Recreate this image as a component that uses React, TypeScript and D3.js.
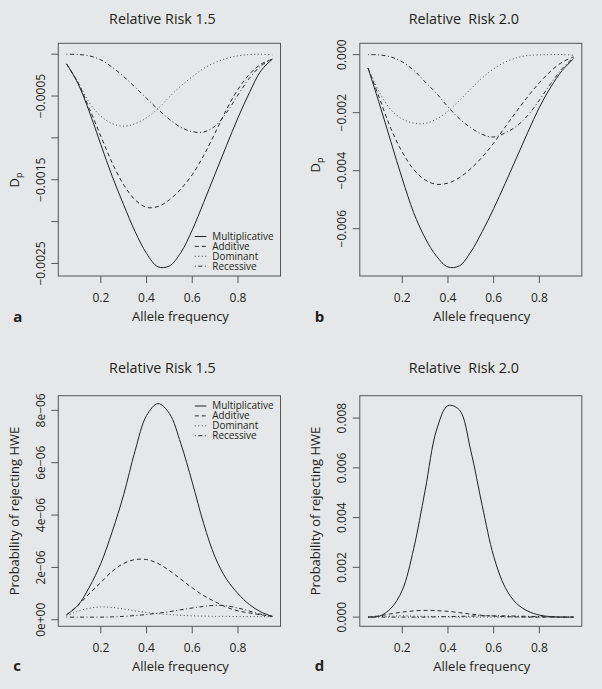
import React from 'react';
import * as d3 from 'd3';

// allele frequency grid shared by every curve
const alleleFreq = [0.05, 0.1, 0.15, 0.2, 0.25, 0.3, 0.35, 0.4, 0.45, 0.5, 0.55, 0.6, 0.65, 0.7, 0.75, 0.8, 0.85, 0.9, 0.95];

const models = ['Multiplicative', 'Additive', 'Dominant', 'Recessive'];

// panel a: D_p, relative risk 1.5
const dpRR15Multiplicative = [-0.000116, -0.00035, -0.00069, -0.00108, -0.00146, -0.0018, -0.00212, -0.00238, -0.00254, -0.00253, -0.00237, -0.0021, -0.00177, -0.00143, -0.00109, -0.00076, -0.00046, -0.0002, -0.00006];
const dpRR15Additive = [-0.000116, -0.00034, -0.00065, -0.00098, -0.0013, -0.00156, -0.00174, -0.00183, -0.00182, -0.00174, -0.00161, -0.00144, -0.00121, -0.00094, -0.00066, -0.00042, -0.00024, -0.00012, -0.00006];
const dpRR15Dominant = [-0.000116, -0.00033, -0.00058, -0.00074, -0.00083, -0.00086, -0.00083, -0.00076, -0.00065, -0.00051, -0.00038, -0.00027, -0.00017, -0.0001, -0.00005, -0.00002, -0.000005, 0, -0.000008];
const dpRR15Recessive = [0, -0.000004, -0.00002, -0.000068, -0.000156, -0.000267, -0.000395, -0.000527, -0.000658, -0.000778, -0.000874, -0.000926, -0.00093, -0.000858, -0.000698, -0.000487, -0.000287, -0.00014, -0.00006];

// panel b: D_p, relative risk 2.0
const dpRR20Multiplicative = [-0.00046, -0.0017, -0.003, -0.00428, -0.00545, -0.00632, -0.00695, -0.00732, -0.00728, -0.0068, -0.0061, -0.00531, -0.00445, -0.00356, -0.00267, -0.00182, -0.00112, -0.00055, -0.00014];
const dpRR20Additive = [-0.00046, -0.0015, -0.00255, -0.00336, -0.00396, -0.00432, -0.00447, -0.00443, -0.00424, -0.00393, -0.00353, -0.00305, -0.0025, -0.00196, -0.00144, -0.00097, -0.00057, -0.00026, -0.00008];
const dpRR20Dominant = [-0.00046, -0.0013, -0.0019, -0.00222, -0.00236, -0.00237, -0.00222, -0.00195, -0.00158, -0.00118, -0.0008, -0.00049, -0.00026, -0.00011, -0.00003, -0.00001, 0, 0, -0.00002];
const dpRR20Recessive = [0, -0.00001, -0.00008, -0.00025, -0.00054, -0.00094, -0.00134, -0.0018, -0.00221, -0.00252, -0.00275, -0.00284, -0.0027, -0.00247, -0.00209, -0.00157, -0.001, -0.00048, -0.0001];

// panel c: probability of rejecting HWE, relative risk 1.5
const hweRR15Multiplicative = [0.19e-6, 0.55e-6, 1.25e-6, 2.15e-6, 3.37e-6, 4.78e-6, 6.46e-6, 7.8e-6, 8.26e-6, 7.88e-6, 6.73e-6, 5.25e-6, 3.67e-6, 2.39e-6, 1.55e-6, 1.0e-6, 0.58e-6, 0.3e-6, 0.13e-6];
const hweRR15Additive = [0.19e-6, 0.55e-6, 1.0e-6, 1.42e-6, 1.85e-6, 2.15e-6, 2.3e-6, 2.3e-6, 2.15e-6, 1.88e-6, 1.55e-6, 1.22e-6, 0.92e-6, 0.69e-6, 0.48e-6, 0.34e-6, 0.26e-6, 0.19e-6, 0.13e-6];
const hweRR15Dominant = [0.15e-6, 0.33e-6, 0.44e-6, 0.49e-6, 0.47e-6, 0.41e-6, 0.34e-6, 0.28e-6, 0.23e-6, 0.2e-6, 0.17e-6, 0.15e-6, 0.14e-6, 0.13e-6, 0.13e-6, 0.12e-6, 0.12e-6, 0.12e-6, 0.12e-6];
const hweRR15Recessive = [0.1e-6, 0.1e-6, 0.1e-6, 0.1e-6, 0.11e-6, 0.13e-6, 0.16e-6, 0.2e-6, 0.25e-6, 0.31e-6, 0.38e-6, 0.45e-6, 0.51e-6, 0.55e-6, 0.53e-6, 0.45e-6, 0.33e-6, 0.21e-6, 0.13e-6];

// panel d: probability of rejecting HWE, relative risk 2.0
const hweRR20Multiplicative = [0, 0.00004, 0.00035, 0.00108, 0.00275, 0.00509, 0.00752, 0.0085, 0.00833, 0.00669, 0.00448, 0.00245, 0.0012, 0.00055, 0.00024, 0.00008, 0.00002, 0, 0];
const hweRR20Additive = [0, 0.00005, 0.00013, 0.0002, 0.00025, 0.00027, 0.00026, 0.00023, 0.00018, 0.00012, 0.00007, 0.00004, 0.00002, 0.00001, 0, 0, 0, 0, 0];
const hweRR20Dominant = [0, 0.00002, 0.00004, 0.00005, 0.00004, 0.00003, 0.00002, 0.00001, 0, 0, 0, 0, 0, 0, 0, 0, 0, 0, 0];
const hweRR20Recessive = [0, 0, 0, 0, 0, 0, 0.00001, 0.00002, 0.00003, 0.00004, 0.00005, 0.00005, 0.00005, 0.00004, 0.00003, 0.00002, 0.00001, 0, 0];

// axis ticks
const xTicks = [0.2, 0.4, 0.6, 0.8];
const xTickLabels = ['0.2', '0.4', '0.6', '0.8'];
const dpRR15Ticks = [-0.0025, -0.002, -0.0015, -0.001, -0.0005, 0];
const dpRR15TickLabels = ['\u22120.0025', '', '\u22120.0015', '', '\u22120.0005', ''];
const dpRR20Ticks = [-0.006, -0.004, -0.002, 0];
const dpRR20TickLabels = ['\u22120.006', '\u22120.004', '\u22120.002', '0.000'];
const hweRR15Ticks = [0, 2e-6, 4e-6, 6e-6, 8e-6];
const hweRR15TickLabels = ['0e+00', '2e\u221206', '4e\u221206', '6e\u221206', '8e\u221206'];
const hweRR20Ticks = [0, 0.002, 0.004, 0.006, 0.008];
const hweRR20TickLabels = ['0.000', '0.002', '0.004', '0.006', '0.008'];

const ink = '#231f20';
const font = "'Open Sans', 'Noto Sans', sans-serif";
const dashes = ['none', '4,3', '1,2.5', '1,2.5,4,2.5'];
const strokes = ['#222', '#2a2a2a', '#444', '#2a2a2a'];

type PanelProps = {
  left: number; right: number; top: number; bottom: number;
  yDomain: [number, number];
  series: number[][];
  yTicks: number[]; yTickLabels: string[];
  title: string; titleY: number;
  yLabel: React.ReactNode; yLabelY: number;
  letter: string; xLabelY: number;
  legendY?: number;
};

function Panel(p: PanelProps) {
  const x = d3.scaleLinear().domain([0.014, 0.986]).range([p.left, p.right]);
  const y = d3.scaleLinear().domain(p.yDomain).range([p.bottom, p.top]);
  const line = d3.line<number>()
    .x((_, i) => x(alleleFreq[i]))
    .y(d => y(d))
    .curve(d3.curveCatmullRom.alpha(0.5));
  const cx = (p.left + p.right) / 2;
  const tickLabelX = p.left - 18;
  const axisLabelX = p.left - 44;

  return (
    <g fontFamily={font} fill={ink}>
      <text x={cx - 7} y={p.titleY} textAnchor="middle" fontSize={14.3} style={{ whiteSpace: 'pre' }}>{p.title}</text>
      <rect x={p.left} y={p.top} width={p.right - p.left} height={p.bottom - p.top} fill="none" stroke="#555" strokeWidth={1} />

      {p.series.map((s, i) => (
        <path key={i} d={line(s) || ''} fill="none" stroke={strokes[i]} strokeWidth={1} strokeDasharray={dashes[i]} />
      ))}

      {xTicks.map((t, i) => (
        <g key={t}>
          <line x1={x(t)} x2={x(t)} y1={p.bottom} y2={p.bottom + 7} stroke="#555" />
          <text x={x(t)} y={p.bottom + 25.5} textAnchor="middle" fontSize={12}>{xTickLabels[i]}</text>
        </g>
      ))}
      <text x={cx + 11} y={p.xLabelY} textAnchor="middle" fontSize={13}>Allele frequency</text>
      <text x={p.left - 45} y={p.xLabelY + 0.5} fontSize={15} fontWeight="bold">{p.letter}</text>

      {p.yTicks.map((t, i) => (
        <g key={t}>
          <line x1={p.left - 7} x2={p.left} y1={y(t)} y2={y(t)} stroke="#555" />
          {p.yTickLabels[i] && (
            <text transform={`translate(${tickLabelX},${y(t)}) rotate(-90)`} dy="0.36em" textAnchor="middle" fontSize={12}>{p.yTickLabels[i]}</text>
          )}
        </g>
      ))}
      <text transform={`translate(${axisLabelX},${p.yLabelY}) rotate(-90)`} dy="0.36em" textAnchor="middle" fontSize={13}>{p.yLabel}</text>

      {p.legendY !== undefined && models.map((m, i) => {
        const ly = p.legendY! + i * 9.9;
        return (
          <g key={m}>
            <line x1={p.left + 136.5} x2={p.left + 148} y1={ly} y2={ly} stroke={strokes[i]} strokeDasharray={dashes[i]} />
            <text x={p.left + 154} y={ly} dy="0.35em" fontSize={9.9}>{m}</text>
          </g>
        );
      })}
    </g>
  );
}

const dpLabel = (
  <>D<tspan fontSize={9} dy={3}>p</tspan></>
);

export default function App() {
  return (
    <svg width={602} height={689} style={{ position: 'absolute', left: 0, top: 0, display: 'block' }}>
      <rect x={0} y={0} width={602} height={689} fill="#e6e7e8" />
      <Panel left={58.3} right={280.5} top={43.3} bottom={276}
        yDomain={[-0.00265, 0.00013]}
        series={[dpRR15Multiplicative, dpRR15Additive, dpRR15Dominant, dpRR15Recessive]}
        yTicks={dpRR15Ticks} yTickLabels={dpRR15TickLabels}
        title="Relative Risk 1.5" titleY={24}
        yLabel={dpLabel} yLabelY={180}
        letter="a" xLabelY={321} legendY={236.5} />
      <Panel left={359.8} right={581.8} top={43.3} bottom={276}
        yDomain={[-0.00763, 0.00039]}
        series={[dpRR20Multiplicative, dpRR20Additive, dpRR20Dominant, dpRR20Recessive]}
        yTicks={dpRR20Ticks} yTickLabels={dpRR20TickLabels}
        title="Relative  Risk 2.0" titleY={24}
        yLabel={dpLabel} yLabelY={165}
        letter="b" xLabelY={321} />
      <Panel left={58.3} right={280.5} top={395.7} bottom={626.3}
        yDomain={[-0.25e-6, 8.56e-6]}
        series={[hweRR15Multiplicative, hweRR15Additive, hweRR15Dominant, hweRR15Recessive]}
        yTicks={hweRR15Ticks} yTickLabels={hweRR15TickLabels}
        title="Relative Risk 1.5" titleY={372.7}
        yLabel="Probability of rejecting HWE" yLabelY={511}
        letter="c" xLabelY={670.5} legendY={406} />
      <Panel left={359.8} right={581.8} top={395.7} bottom={626.3}
        yDomain={[-0.00037, 0.0089]}
        series={[hweRR20Multiplicative, hweRR20Additive, hweRR20Dominant, hweRR20Recessive]}
        yTicks={hweRR20Ticks} yTickLabels={hweRR20TickLabels}
        title="Relative  Risk 2.0" titleY={372.7}
        yLabel="Probability of rejecting HWE" yLabelY={511}
        letter="d" xLabelY={670.5} />
    </svg>
  );
}
